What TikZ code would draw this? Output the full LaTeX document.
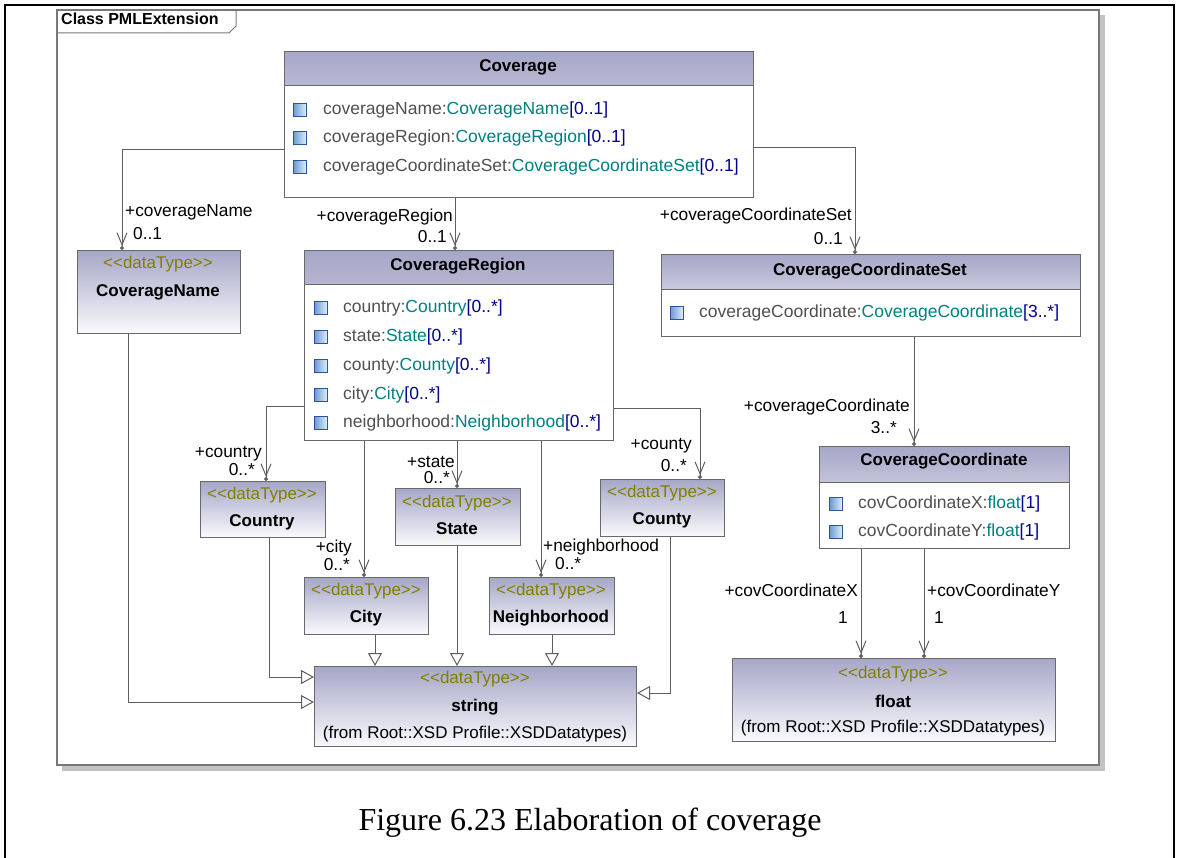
\documentclass[tikz,border=0pt]{standalone}
\usepackage{fontspec}
\setmainfont{Liberation Serif}
\setsansfont{Liberation Sans}
\usetikzlibrary{arrows.meta,calc}
\definecolor{lnc}{RGB}{95,95,95}
\definecolor{bdc}{RGB}{105,105,105}
\definecolor{hdtop}{RGB}{166,166,200}
\definecolor{hdbot}{RGB}{250,250,253}
\definecolor{stc}{RGB}{128,128,0}
\definecolor{tyc}{RGB}{0,128,128}
\definecolor{mlc}{RGB}{0,0,140}
\definecolor{atc}{RGB}{80,80,80}
\definecolor{icd}{RGB}{45,85,150}
\definecolor{icm}{RGB}{110,155,210}
\definecolor{icl}{RGB}{225,240,252}
\definecolor{framec}{RGB}{120,120,120}
\definecolor{shadc}{RGB}{195,195,195}
\newcommand\umlicon[2]{\shade[left color=icm, right color=icl, draw=icd, line width=0.8pt] (#1-6.5,#2-6.5) rectangle (#1+6.5,#2+6.5);}
\newcommand\att[3]{{\color{atc}#1}{\color{tyc}#2}{\color{mlc}#3}}
\newcommand\dtst{<{}<dataType>{}>}
\tikzset{
  x=1pt, y=-1pt,
  txt/.style={font=\sffamily\fontsize{17.5}{19}\selectfont, inner sep=0pt, yshift=-2pt},
  ftxt/.style={font=\sffamily\fontsize{17}{19}\selectfont, inner sep=0pt},
  bold/.style={font=\sffamily\bfseries\fontsize{17}{19}\selectfont, inner sep=0pt},
  stereo/.style={font=\sffamily\fontsize{17}{19}\selectfont, inner sep=0pt, text=stc},
  lbl/.style={font=\sffamily\fontsize{17.3}{19}\selectfont, inner sep=0pt, yshift=-2pt},
  classbox/.style={draw=bdc, line width=1pt, fill=white, anchor=north west, inner sep=0pt},
  hdr/.style={path picture={
     \shade[top color=hdtop, bottom color=hdbot] (path picture bounding box.north west) rectangle ([yshift=-#1pt]path picture bounding box.north east);
     \draw[bdc, line width=1pt] ([yshift=-#1pt]path picture bounding box.north west) -- ([yshift=-#1pt]path picture bounding box.north east);}},
  dtbox/.style={draw=bdc, line width=1pt, top color=hdtop, bottom color=hdbot, anchor=north west, inner sep=0pt},
  assoc/.style={draw=lnc, line width=1pt, -{Straight Barb[length=12pt,width=10pt] Circle[length=4pt]}},
  gen/.style={draw=lnc, line width=1pt, -{Triangle[length=13pt,width=14pt,fill=white]}},
}
\begin{document}
\begin{tikzpicture}
\useasboundingbox (0,0) rectangle (1177,858);
% outer page border
\draw[line width=2.5pt] (5,858) -- (5,5) -- (1174,5) -- (1174,858);
% diagram frame
\fill[shadc] (62,15) rectangle (1105,771);
\draw[framec, line width=1.2pt, fill=white] (57,10) rectangle (1099,765);
\draw[framec, line width=1pt] (57,33) -- (229,33) -- (236,26) -- (236,10);
\node[font=\sffamily\bfseries\fontsize{16}{18}\selectfont, inner sep=0pt, anchor=mid west, yshift=-1pt] (frametitle) at (61,21) {Class PMLExtension};

% ---------- Coverage ----------
\node[classbox, hdr=34, minimum width=469pt, minimum height=146pt] (cov) at (284,51) {};
\node[bold] (covt) at (518,67) {Coverage};
\umlicon{300}{110}\node[txt, anchor=mid west] (cova) at (323,110) {\att{coverageName:}{CoverageName}{[0..1]}};
\umlicon{300}{138}\node[txt, anchor=mid west] (covb) at (323,138) {\att{coverageRegion:}{CoverageRegion}{[0..1]}};
\umlicon{300}{167}\node[txt, anchor=mid west] (covc) at (323,167) {\att{coverageCoordinateSet:}{CoverageCoordinateSet}{[0..1]}};

% ---------- CoverageRegion ----------
\node[classbox, hdr=34, minimum width=309pt, minimum height=190pt] (creg) at (304,250) {};
\node[bold] (cregt) at (458,266) {CoverageRegion};
\umlicon{321}{308}\node[txt, anchor=mid west] (crega) at (343,308) {\att{country:}{Country}{[0..*]}};
\umlicon{321}{337}\node[txt, anchor=mid west] (cregb) at (343,337) {\att{state:}{State}{[0..*]}};
\umlicon{321}{366}\node[txt, anchor=mid west] (cregc) at (343,366) {\att{county:}{County}{[0..*]}};
\umlicon{321}{395}\node[txt, anchor=mid west] (cregd) at (343,395) {\att{city:}{City}{[0..*]}};
\umlicon{321}{423}\node[txt, anchor=mid west] (crege) at (343,423) {\att{neighborhood:}{Neighborhood}{[0..*]}};

% ---------- CoverageCoordinateSet ----------
\node[classbox, hdr=35, minimum width=419pt, minimum height=82pt] (ccs) at (661,254) {};
\node[bold] (ccst) at (870,271) {CoverageCoordinateSet};
\umlicon{677}{313}\node[txt, anchor=mid west] (ccsa) at (699,313) {\att{coverageCoordinate:}{CoverageCoordinate}{[3..*]}};

% ---------- CoverageCoordinate ----------
\node[classbox, hdr=36, minimum width=250pt, minimum height=102pt] (cc) at (819,446) {};
\node[bold] (cct) at (944,461) {CoverageCoordinate};
\umlicon{836}{504}\node[txt, anchor=mid west] (cca) at (858,504) {\att{covCoordinateX:}{float}{[1]}};
\umlicon{836}{532}\node[txt, anchor=mid west] (ccb) at (858,532) {\att{covCoordinateY:}{float}{[1]}};

% ---------- data types ----------
\node[dtbox, minimum width=163pt, minimum height=83pt] (cname) at (77,250) {};
\node[stereo] (cnames) at (158,264) {\dtst};
\node[bold] (cnamet) at (158,292) {CoverageName};

\node[dtbox, minimum width=125pt, minimum height=56pt] (country) at (200,481) {};
\node[stereo] (countrys) at (262,495) {\dtst};
\node[bold] (countryt) at (262,522) {Country};

\node[dtbox, minimum width=125pt, minimum height=57pt] (state) at (395,488) {};
\node[stereo] (states) at (457,503) {\dtst};
\node[bold] (statet) at (457,529) {State};

\node[dtbox, minimum width=124pt, minimum height=57pt] (county) at (600,479) {};
\node[stereo] (countys) at (662,493) {\dtst};
\node[bold] (countyt) at (662,520) {County};

\node[dtbox, minimum width=124pt, minimum height=57pt] (city) at (304,577) {};
\node[stereo] (citys) at (366,591) {\dtst};
\node[bold] (cityt) at (366,618) {City};

\node[dtbox, minimum width=125pt, minimum height=57pt] (nbh) at (489,577) {};
\node[stereo] (nbhs) at (551,591) {\dtst};
\node[bold] (nbht) at (551,618) {Neighborhood};

\node[dtbox, minimum width=322pt, minimum height=80pt] (string) at (314,666) {};
\node[stereo] (strings) at (475,679) {\dtst};
\node[bold] (stringt) at (475,707) {string};
\node[ftxt] (stringf) at (475,734) {(from Root::XSD Profile::XSDDatatypes)};

\node[dtbox, minimum width=323pt, minimum height=83pt] (float) at (732,658) {};
\node[stereo] (floats) at (893,674) {\dtst};
\node[bold] (floatt) at (893,701) {float};
\node[ftxt] (floatf) at (893,728) {(from Root::XSD Profile::XSDDatatypes)};

% ---------- associations ----------
\draw[assoc] (cov.west |- 0,150) -| (122,0 |- cname.north);
\node[lbl, anchor=mid west] (l1a) at (125,212) {+coverageName};
\node[lbl, anchor=mid west] (l1b) at (133,235) {0..1};

\draw[assoc] (455,0 |- cov.south) -- (455,0 |- creg.north);
\node[lbl, anchor=mid east] (l2a) at (453,217) {+coverageRegion};
\node[lbl, anchor=mid east] (l2b) at (447,238) {0..1};

\draw[assoc] (cov.east |- 0,148) -| (855,0 |- ccs.north);
\node[lbl, anchor=mid east] (l3a) at (852,216) {+coverageCoordinateSet};
\node[lbl, anchor=mid east] (l3b) at (843,240) {0..1};

\draw[assoc] (914,0 |- ccs.south) -- (914,0 |- cc.north);
\node[lbl, anchor=mid east] (l4a) at (910,407) {+coverageCoordinate};
\node[lbl, anchor=mid east] (l4b) at (897,429) {3..*};

\draw[assoc] (creg.west |- 0,406) -| (266,0 |- country.north);
\node[lbl, anchor=mid east] (l5a) at (262,453) {+country};
\node[lbl, anchor=mid east] (l5b) at (255,471) {0..*};

\draw[assoc] (457,0 |- creg.south) -- (457,0 |- state.north);
\node[lbl, anchor=mid east] (l6a) at (455,463) {+state};
\node[lbl, anchor=mid east] (l6b) at (450,479) {0..*};

\draw[assoc] (364,0 |- creg.south) -- (364,0 |- city.north);
\node[lbl, anchor=mid east] (l7a) at (352,548) {+city};
\node[lbl, anchor=mid east] (l7b) at (350,566) {0..*};

\draw[assoc] (541,0 |- creg.south) -- (541,0 |- nbh.north);
\node[lbl, anchor=mid west] (l8a) at (543,547) {+neighborhood};
\node[lbl, anchor=mid west] (l8b) at (555,565) {0..*};

\draw[assoc] (creg.east |- 0,408) -| (700,0 |- county.north);
\node[lbl, anchor=mid east] (l9a) at (692,445) {+county};
\node[lbl, anchor=mid east] (l9b) at (687,467) {0..*};

\draw[assoc] (861,0 |- cc.south) -- (861,0 |- float.north);
\node[lbl, anchor=mid east] (l10a) at (858,592) {+covCoordinateX};
\node[lbl] (l10b) at (843,616) {1};

\draw[assoc] (924,0 |- cc.south) -- (924,0 |- float.north);
\node[lbl, anchor=mid west] (l11a) at (927,592) {+covCoordinateY};
\node[lbl] (l11b) at (939,616) {1};

% ---------- generalizations ----------
\draw[gen] (375,0 |- city.south) -- (375,0 |- string.north);
\draw[gen] (457,0 |- state.south) -- (457,0 |- string.north);
\draw[gen] (552,0 |- nbh.south) -- (552,0 |- string.north);
\draw[gen] (269,0 |- country.south) |- (string.west |- 0,677);
\draw[gen] (128,0 |- cname.south) |- (string.west |- 0,702);
\draw[gen] (670,0 |- county.south) |- (string.east |- 0,693);

% caption
\node[font=\rmfamily\fontsize{32}{36}\selectfont, inner sep=0pt] (caption) at (590,823) {Figure 6.23 Elaboration of coverage};
\end{tikzpicture}
\end{document}
